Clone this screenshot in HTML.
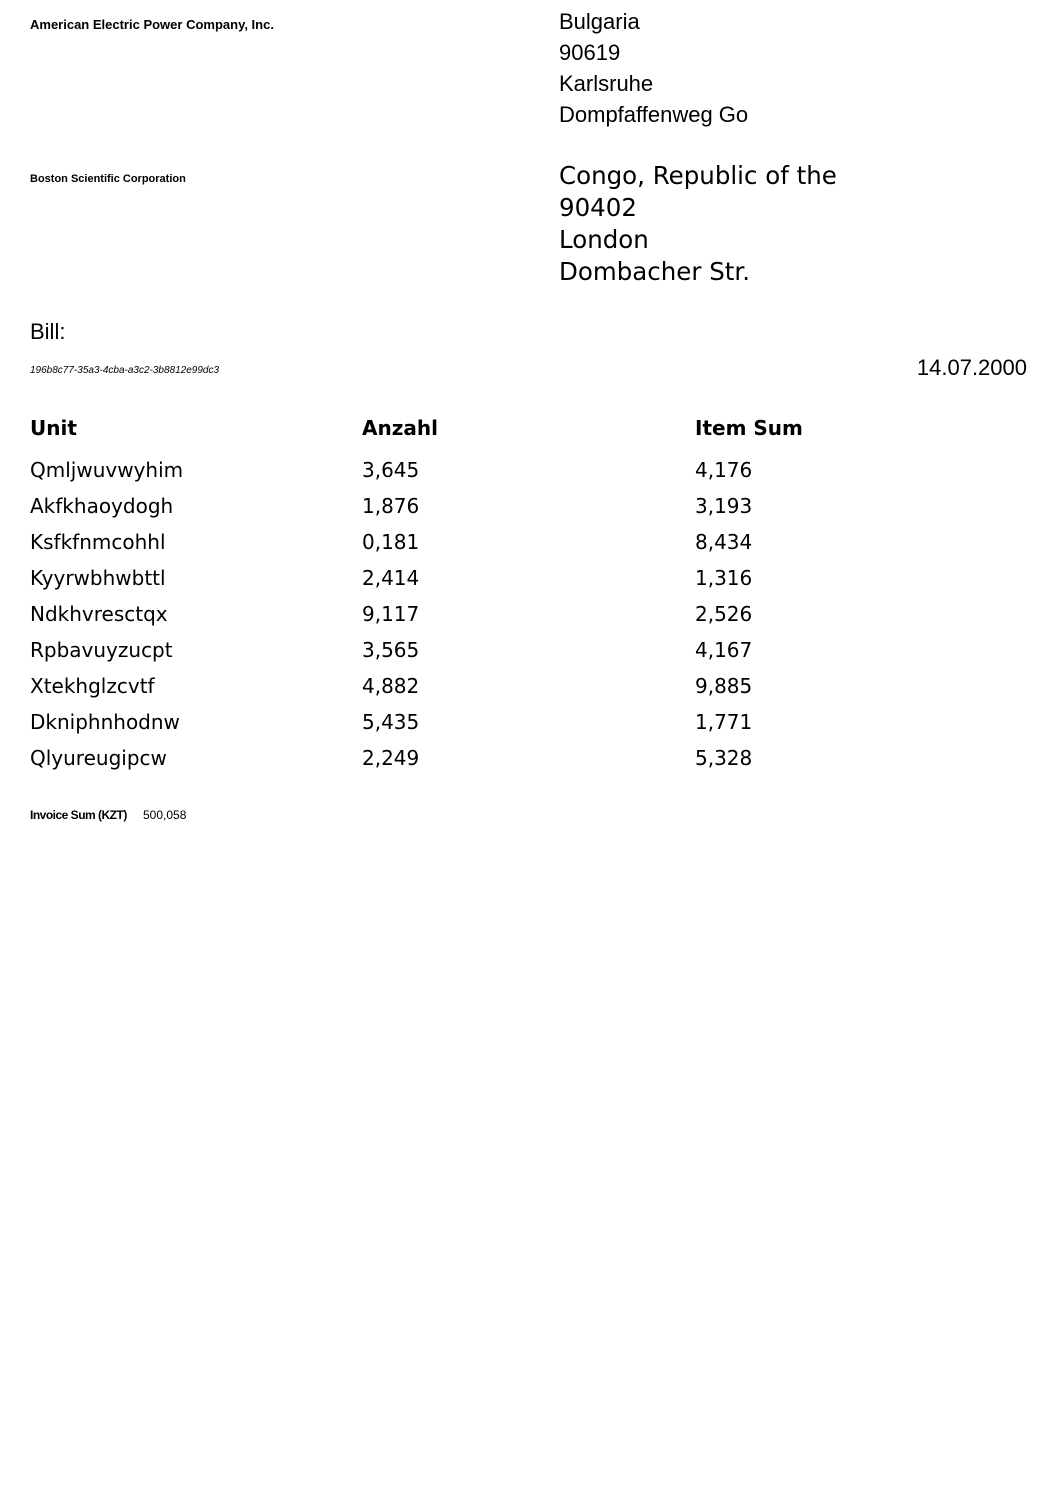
<!DOCTYPE html>
<html><head><meta charset="utf-8">
<style>
body{margin:0;width:1058px;height:1494px;background:#fff;position:relative;font-family:"Liberation Sans",sans-serif;color:#000}
.a{position:absolute;white-space:nowrap;line-height:1}
.cal{font-family:"Liberation Sans",sans-serif}
.ver{font-family:"DejaVu Sans",sans-serif}
</style></head><body>
<div class="a" style="left:30px;top:18px;font-size:13px;font-weight:bold">American Electric Power Company, Inc.</div>
<div class="a cal" style="left:559px;top:6px;font-size:22px;line-height:31px;white-space:pre">Bulgaria
90619
Karlsruhe
Dompfaffenweg Go</div>
<div class="a" style="left:30px;top:174px;font-size:11px;font-weight:bold">Boston Scientific Corporation</div>
<div class="a ver" style="left:559px;top:160px;font-size:24.5px;line-height:32px;white-space:pre">Congo, Republic of the
90402
London
Dombacher Str.</div>
<div class="a cal" style="left:30px;top:321px;font-size:22px">Bill:</div>
<div class="a" style="left:30px;top:366px;font-size:10px;font-style:italic">196b8c77-35a3-4cba-a3c2-3b8812e99dc3</div>
<div class="a cal" style="right:31px;top:357px;font-size:22px">14.07.2000</div>
<div>
<div class="a ver" style="left:30px;top:418px;font-size:20px;font-weight:bold">Unit</div>
<div class="a ver" style="left:362px;top:418px;font-size:20px;font-weight:bold">Anzahl</div>
<div class="a ver" style="left:695px;top:418px;font-size:20px;font-weight:bold">Item Sum</div>
<div id="rows"></div>
</div>
<div class="a" style="left:30px;top:809px;font-size:12px;font-weight:bold;letter-spacing:-0.5px">Invoice Sum (KZT)</div>
<div class="a" style="left:143px;top:809px;font-size:12px">500,058</div>
<script>
const units=["Qmljwuvwyhim","Akfkhaoydogh","Ksfkfnmcohhl","Kyyrwbhwbttl","Ndkhvresctqx","Rpbavuyzucpt","Xtekhglzcvtf","Dkniphnhodnw","Qlyureugipcw"];
const counts=["3,645","1,876","0,181","2,414","9,117","3,565","4,882","5,435","2,249"];
const sums=["4,176","3,193","8,434","1,316","2,526","4,167","9,885","1,771","5,328"];
const rows=document.getElementById('rows');
units.forEach((u,i)=>{
  const top=460+i*36;
  [[u,30,'unit-cell'],[counts[i],362,'anzahl-cell'],[sums[i],695,'item-sum-cell']].forEach(c=>{
    const d=document.createElement('div');
    d.className='a ver';
    d.style.cssText=`left:${c[1]}px;top:${top}px;font-size:20px`;
    d.textContent=c[0];
    
    
    rows.appendChild(d);
  });
});
</script>
</body></html>
